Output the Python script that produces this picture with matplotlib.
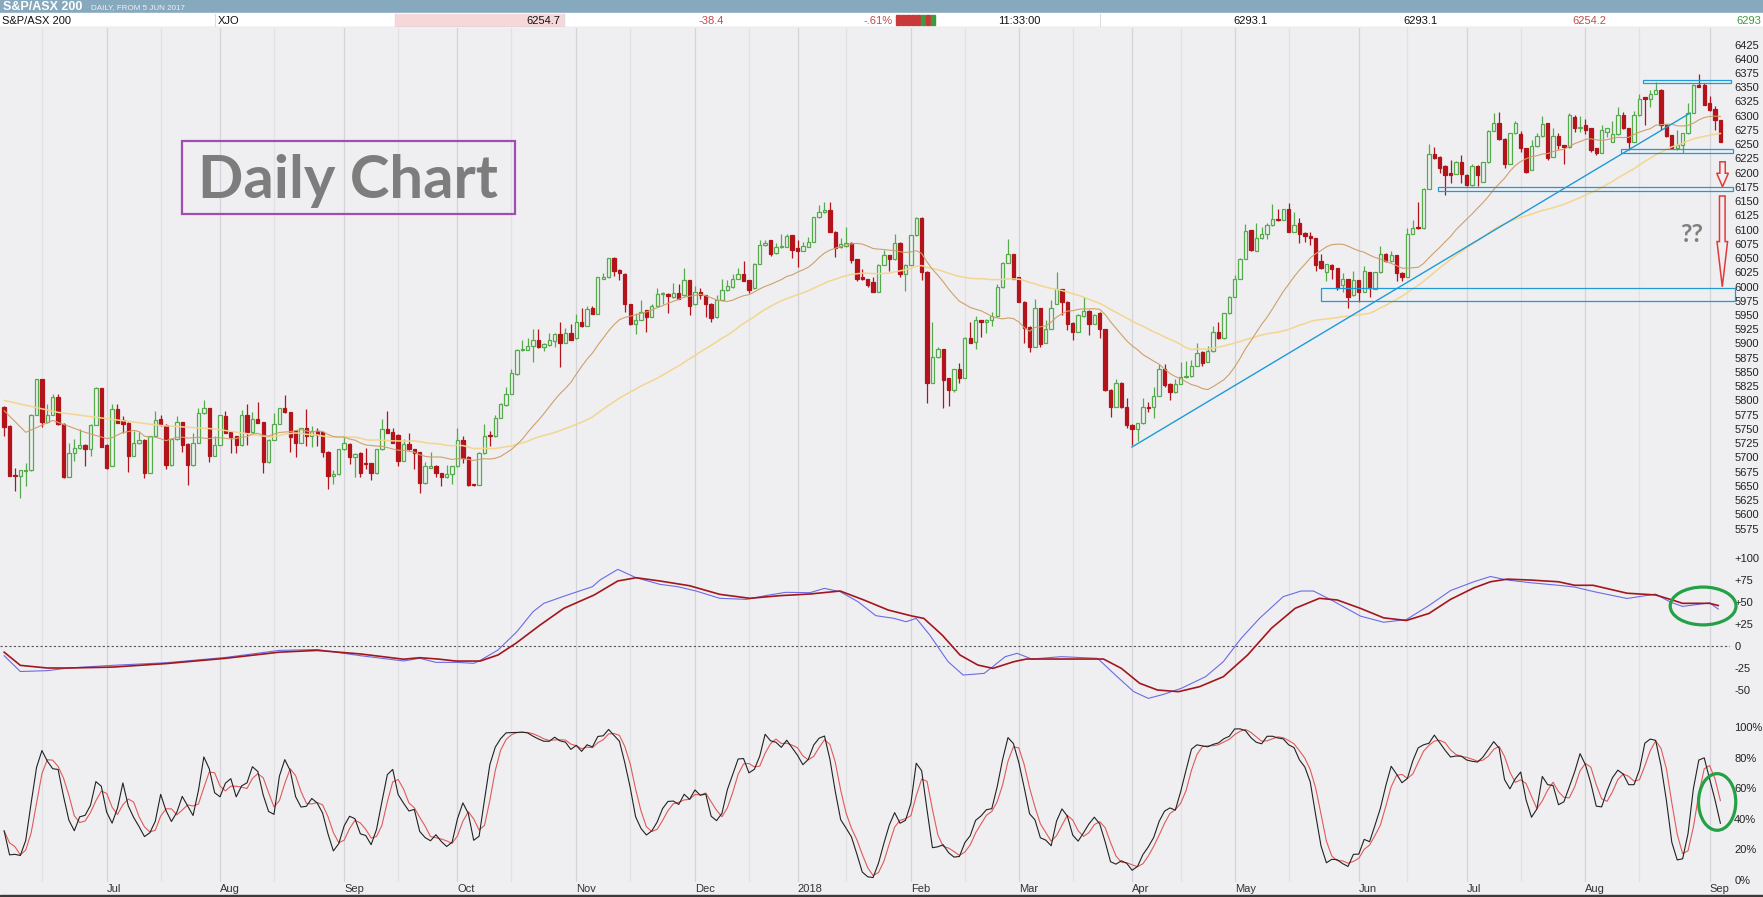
import numpy as np
import pandas as pd
import matplotlib
matplotlib.use("Agg")
import matplotlib.pyplot as plt
from matplotlib.patches import Rectangle, Ellipse, Polygon

plt.rcParams["font.family"] = ["Liberation Sans", "DejaVu Sans"]

# ================================
# DATA  (S&P/ASX 200 daily candles, 5 Jun 2017 .. 5 Sep 2018)
# ================================
opens = [
    5788, 5755, 5669, 5667, 5676, 5677, 5775, 5837, 5763, 5775,
    5806, 5759, 5666, 5708, 5716, 5722, 5714, 5757, 5821, 5722,
    5685, 5785, 5765, 5761, 5703, 5725, 5731, 5673, 5737, 5767,
    5756, 5686, 5732, 5762, 5724, 5686, 5726, 5778, 5786, 5703,
    5722, 5772, 5745, 5737, 5721, 5775, 5744, 5768, 5762, 5692,
    5731, 5759, 5786, 5779, 5747, 5726, 5751, 5737, 5747, 5744,
    5710, 5668, 5670, 5714, 5724, 5701, 5708, 5691, 5690, 5672,
    5714, 5749, 5745, 5740, 5694, 5724, 5714, 5709, 5655, 5682,
    5685, 5672, 5665, 5671, 5684, 5731, 5701, 5653, 5652, 5707,
    5739, 5737, 5770, 5792, 5812, 5846, 5888, 5889, 5895, 5906,
    5894, 5897, 5905, 5917, 5901, 5919, 5909, 5938, 5931, 5962,
    5952, 6014, 6016, 6050, 6029, 6022, 5969, 5934, 5942, 5958,
    5947, 5965, 5987, 5987, 5981, 5989, 5985, 6011, 5969, 5991,
    5985, 5970, 5946, 5977, 5994, 5999, 6014, 6022, 6011, 5997,
    6040, 6073, 6081, 6059, 6069, 6070, 6090, 6067, 6063, 6070,
    6079, 6122, 6131, 6135, 6096, 6069, 6071, 6077, 6048, 6016,
    6013, 6008, 5991, 6038, 6055, 6048, 6077, 6022, 6038, 6090,
    6121, 6026, 5831, 5876, 5890, 5839, 5818, 5855, 5840, 5909,
    5903, 5941, 5937, 5941, 5948, 5999, 6042, 6057, 6016, 5973,
    5929, 5894, 5962, 5901, 5926, 5970, 5995, 5973, 5936, 5921,
    5948, 5957, 5935, 5954, 5925, 5819, 5789, 5831, 5789, 5757,
    5749, 5760, 5789, 5788, 5808, 5856, 5829, 5814, 5829, 5841,
    5843, 5861, 5885, 5868, 5886, 5921, 5909, 5953, 5982, 6014,
    6049, 6099, 6063, 6085, 6092, 6108, 6118, 6117, 6137, 6096,
    6111, 6094, 6089, 6085, 6044, 6026, 6038, 6032, 6003, 6013,
    5985, 6011, 5991, 6025, 5996, 6025, 6058, 6044, 6055, 6024,
    6017, 6093, 6105, 6102, 6172, 6233, 6228, 6212, 6199, 6198,
    6218, 6196, 6178, 6212, 6184, 6218, 6274, 6288, 6259, 6216,
    6269, 6268, 6243, 6205, 6246, 6264, 6287, 6228, 6264, 6248,
    6245, 6298, 6278, 6283, 6278, 6243, 6235, 6272, 6254, 6268,
    6301, 6278, 6254, 6301, 6332, 6329, 6339, 6346, 6284, 6266,
    6243, 6248, 6269, 6305, 6354, 6354, 6322, 6311, 6293.1,
]
highs = [
    5790, 5756, 5682, 5678, 5691, 5776, 5838, 5838, 5794, 5812,
    5812, 5760, 5725, 5732, 5750, 5724, 5758, 5823, 5822, 5723,
    5793, 5793, 5772, 5762, 5747, 5745, 5732, 5738, 5781, 5775,
    5759, 5733, 5772, 5763, 5725, 5743, 5786, 5801, 5787, 5738,
    5775, 5781, 5746, 5738, 5784, 5794, 5780, 5798, 5763, 5732,
    5778, 5787, 5809, 5780, 5748, 5752, 5785, 5755, 5751, 5745,
    5711, 5677, 5715, 5735, 5725, 5707, 5709, 5716, 5691, 5715,
    5767, 5781, 5751, 5741, 5732, 5743, 5715, 5710, 5692, 5709,
    5686, 5673, 5686, 5685, 5751, 5738, 5702, 5654, 5709, 5759,
    5746, 5775, 5795, 5824, 5855, 5890, 5906, 5909, 5925, 5925,
    5900, 5919, 5918, 5937, 5927, 5934, 5952, 5962, 5966, 5966,
    6017, 6023, 6051, 6052, 6030, 6023, 5970, 5954, 5977, 5959,
    5969, 5997, 5991, 5988, 6006, 6004, 6032, 6012, 6001, 5998,
    5986, 5971, 5985, 6013, 6011, 6022, 6032, 6044, 6012, 6041,
    6082, 6081, 6082, 6077, 6093, 6093, 6091, 6082, 6079, 6087,
    6123, 6143, 6149, 6149, 6097, 6085, 6104, 6078, 6049, 6031,
    6014, 6017, 6039, 6065, 6056, 6093, 6078, 6039, 6091, 6122,
    6122, 6027, 5938, 5894, 5891, 5840, 5856, 5866, 5912, 5937,
    5948, 5942, 5943, 5956, 6004, 6043, 6083, 6058, 6017, 5974,
    5930, 5979, 5963, 5941, 5976, 6026, 5996, 5974, 5937, 5951,
    5982, 5958, 5951, 5955, 5926, 5820, 5837, 5832, 5804, 5758,
    5761, 5805, 5798, 5824, 5864, 5864, 5830, 5837, 5868, 5870,
    5871, 5901, 5886, 5895, 5930, 5938, 5954, 5983, 6020, 6050,
    6110, 6100, 6111, 6104, 6112, 6145, 6137, 6137, 6146, 6131,
    6120, 6095, 6095, 6086, 6058, 6040, 6040, 6033, 6023, 6014,
    6027, 6012, 6036, 6026, 6026, 6071, 6059, 6063, 6056, 6025,
    6102, 6116, 6149, 6173, 6250, 6245, 6229, 6213, 6223, 6221,
    6231, 6197, 6216, 6213, 6219, 6275, 6304, 6307, 6260, 6270,
    6291, 6274, 6244, 6257, 6270, 6299, 6288, 6278, 6269, 6249,
    6304, 6301, 6299, 6294, 6279, 6244, 6284, 6279, 6291, 6315,
    6307, 6279, 6309, 6339, 6333, 6346, 6360, 6347, 6285, 6267,
    6275, 6270, 6322, 6355, 6374, 6357, 6334, 6317, 6293.1,
]
lows = [
    5737, 5667, 5641, 5629, 5650, 5676, 5774, 5753, 5760, 5774,
    5757, 5664, 5665, 5694, 5714, 5685, 5703, 5756, 5718, 5680,
    5684, 5760, 5743, 5675, 5702, 5724, 5664, 5672, 5736, 5755,
    5679, 5685, 5731, 5710, 5652, 5685, 5725, 5777, 5692, 5702,
    5721, 5742, 5708, 5708, 5720, 5722, 5743, 5760, 5672, 5691,
    5730, 5758, 5778, 5710, 5700, 5725, 5720, 5718, 5720, 5700,
    5645, 5654, 5669, 5713, 5688, 5665, 5665, 5680, 5661, 5671,
    5713, 5742, 5725, 5685, 5693, 5713, 5679, 5638, 5654, 5681,
    5665, 5649, 5664, 5653, 5683, 5690, 5649, 5650, 5651, 5706,
    5720, 5736, 5769, 5791, 5811, 5845, 5887, 5888, 5868, 5892,
    5886, 5896, 5894, 5858, 5900, 5906, 5908, 5929, 5930, 5951,
    5951, 6013, 6015, 6019, 6011, 5956, 5933, 5917, 5941, 5921,
    5946, 5964, 5970, 5953, 5980, 5978, 5984, 5950, 5968, 5979,
    5946, 5938, 5945, 5976, 5993, 5998, 6013, 6009, 5989, 5996,
    6039, 6072, 6054, 6058, 6068, 6069, 6051, 6034, 6062, 6069,
    6078, 6121, 6130, 6095, 6052, 6068, 6070, 6042, 6010, 6012,
    6000, 5990, 5990, 6037, 6028, 6047, 6016, 5993, 6037, 6089,
    6011, 5795, 5830, 5875, 5786, 5790, 5815, 5830, 5839, 5900,
    5890, 5912, 5919, 5930, 5947, 5998, 6041, 6013, 5972, 5900,
    5885, 5893, 5894, 5900, 5925, 5969, 5950, 5924, 5906, 5920,
    5947, 5915, 5934, 5910, 5817, 5771, 5788, 5786, 5751, 5722,
    5729, 5759, 5780, 5769, 5807, 5824, 5800, 5813, 5828, 5840,
    5842, 5860, 5860, 5867, 5885, 5908, 5908, 5952, 5981, 6013,
    6048, 6063, 6062, 6084, 6084, 6107, 6115, 6116, 6095, 6095,
    6077, 6079, 6073, 6028, 6030, 6009, 6013, 5994, 5991, 5963,
    5984, 5972, 5990, 5981, 5995, 6024, 6043, 6043, 6009, 6009,
    6016, 6092, 6101, 6101, 6171, 6224, 6200, 6161, 6181, 6197,
    6181, 6177, 6177, 6177, 6183, 6217, 6273, 6258, 6208, 6215,
    6268, 6237, 6199, 6204, 6245, 6263, 6222, 6227, 6241, 6216,
    6244, 6272, 6272, 6268, 6237, 6231, 6234, 6263, 6253, 6267,
    6277, 6240, 6253, 6300, 6284, 6316, 6338, 6275, 6263, 6241,
    6240, 6234, 6268, 6304, 6350, 6318, 6309, 6275, 6254.2,
]
closes = [
    5754, 5668, 5667, 5677, 5678, 5775, 5837, 5762, 5775, 5806,
    5759, 5665, 5708, 5716, 5722, 5714, 5757, 5821, 5719, 5682,
    5785, 5761, 5759, 5703, 5725, 5731, 5672, 5737, 5766, 5756,
    5686, 5732, 5762, 5722, 5686, 5726, 5778, 5786, 5703, 5722,
    5774, 5743, 5735, 5721, 5775, 5744, 5768, 5761, 5692, 5731,
    5759, 5786, 5779, 5735, 5726, 5751, 5737, 5747, 5739, 5710,
    5668, 5670, 5714, 5725, 5701, 5706, 5672, 5688, 5672, 5714,
    5749, 5743, 5726, 5694, 5724, 5714, 5708, 5655, 5684, 5685,
    5672, 5665, 5671, 5684, 5731, 5699, 5651, 5652, 5708, 5738,
    5737, 5770, 5794, 5812, 5848, 5889, 5890, 5896, 5906, 5893,
    5899, 5906, 5917, 5901, 5918, 5907, 5938, 5930, 5960, 5952,
    6016, 6017, 6050, 6028, 6023, 5969, 5934, 5942, 5956, 5946,
    5965, 5987, 5988, 5984, 5988, 5979, 6011, 5966, 5991, 5985,
    5969, 5944, 5977, 5994, 6001, 6014, 6022, 6010, 5994, 6040,
    6073, 6076, 6058, 6069, 6071, 6089, 6065, 6063, 6071, 6079,
    6122, 6131, 6135, 6096, 6067, 6075, 6077, 6047, 6013, 6013,
    6003, 5991, 6038, 6055, 6048, 6077, 6022, 6038, 6090, 6121,
    6026, 5831, 5877, 5890, 5836, 5818, 5855, 5840, 5909, 5901,
    5941, 5938, 5942, 5948, 5999, 6042, 6057, 6014, 5973, 5928,
    5894, 5962, 5899, 5926, 5963, 5995, 5973, 5935, 5921, 5950,
    5957, 5935, 5950, 5925, 5818, 5789, 5831, 5789, 5757, 5749,
    5760, 5788, 5787, 5808, 5856, 5827, 5814, 5829, 5841, 5843,
    5861, 5883, 5865, 5886, 5921, 5909, 5953, 5982, 6014, 6049,
    6098, 6064, 6085, 6092, 6108, 6118, 6116, 6136, 6096, 6108,
    6093, 6088, 6086, 6038, 6032, 6039, 6030, 5998, 6013, 5981,
    6011, 5990, 6028, 5997, 6025, 6058, 6044, 6055, 6024, 6016,
    6093, 6102, 6102, 6172, 6233, 6225, 6209, 6196, 6196, 6218,
    6198, 6178, 6212, 6196, 6218, 6274, 6288, 6259, 6216, 6269,
    6288, 6243, 6202, 6246, 6264, 6285, 6225, 6264, 6248, 6245,
    6301, 6278, 6281, 6275, 6240, 6234, 6275, 6278, 6268, 6301,
    6278, 6254, 6301, 6330, 6329, 6339, 6346, 6284, 6264, 6243,
    6248, 6269, 6305, 6354, 6351, 6319, 6310, 6293, 6254.7,
]

ma20_lead_x = [0, 4, 9, 15]
ma20_lead = [5782, 5744, 5765, 5744]
ma50_lead_x = [0, 10, 19, 29, 39]
ma50_lead = [5800, 5779, 5768, 5756, 5750]

# MACD line (blue) and its signal line (red)
macd_x = [0, 3, 8, 12, 20, 30, 41, 51, 58, 66, 74, 77, 80, 84, 87, 88,
          91.5, 95, 98, 100, 104, 109, 110.4, 113.7, 117.1, 121.5, 124.8,
          128.2, 132.6, 137.6, 141, 144.8, 149.3, 152, 154.9, 158.2, 161.5,
          164.9, 167.1, 169, 171.5, 174.9, 177.7, 181.6, 185.5, 187.7, 190.4,
          195.9, 202.6, 205.9, 209.3, 212, 214.8, 218.1, 222.6, 225.9, 229.2,
          232.6, 237, 240.3, 242.6, 245.9, 251.3, 255.6, 259.8, 264, 268,
          272.3, 275.4, 278.5, 282.7, 288, 291, 294.4, 300.7, 306, 308.7,
          311, 316, 317.6]
macd_vals = [-11, -29, -28, -25, -22, -19, -13, -5, -4, -11, -17, -14, -18.6,
             -18.6, -19.7, -17.1, -4.6, 16.3, 39, 48.5, 57.2, 67.4, 75, 87.1,
             77.6, 70.1, 67.4, 62.5, 54.2, 53, 57.2, 61, 60.6, 65.5, 61.7, 50.4,
             34.5, 31.4, 27.6, 31.4, 12.5, -17.8, -33, -31.1, -12.1, -8.3, -14.8,
             -12.1, -14, -33, -51.9, -59.5, -55, -48.1, -34.9, -17.8, 8.7, 31.4,
             56.1, 62.5, 62.5, 52.3, 34, 27, 30, 46, 63, 73, 79, 75, 72, 69, 67,
             62, 54, 59, 50, 45, 49, 42]
signal_x = [0, 3, 8, 12, 20, 30, 41, 51, 58, 66, 74, 77, 80.4, 83.7, 88.2,
            91.5, 94.8, 99.3, 103.7, 109.3, 113.7, 117.1, 121.5, 127, 132.6,
            138.2, 143.7, 149.3, 154.9, 159.3, 163.8, 168.2, 170.4, 173.8,
            177.1, 180.4, 183.2, 187.1, 189.4, 194.8, 203.7, 207, 210.4, 213.7,
            217.6, 221.5, 225.9, 230.4, 234.8, 239.2, 243.7, 247, 251.3, 255.6,
            259.8, 264, 268, 272.3, 275.4, 278.5, 282.7, 288, 291, 294.4, 300.7,
            306, 308.7, 311, 316, 317.6]
signal_vals = [-7, -22, -25, -25, -24, -20, -14, -7, -5, -9, -15, -13.3, -14.8,
               -17.1, -17.1, -10.2, 3, 23.8, 42.8, 57.9, 73.9, 77.6, 73.9, 68.5,
               58.7, 54.2, 57.2, 59.1, 62.5, 52.3, 40.9, 34.1, 31.4, 12.5, -10.2,
               -21.6, -25.4, -17.8, -14.8, -14.8, -14.8, -25.4, -42.4, -50,
               -51.9, -46.2, -34.9, -10.2, 20.1, 42.8, 54.2, 52.3, 42.8, 32, 29,
               37, 53, 66, 73, 76, 75, 73, 69, 69, 60, 58, 53, 48.5, 48.5, 46]

# bar index of the first trading day of each month, and of mid month
month_labels = ["Jul", "Aug", "Sep", "Oct", "Nov", "Dec", "2018", "Feb",
                "Mar", "Apr", "May", "Jun", "Jul", "Aug", "Sep"]
month_starts = [19, 40, 63, 84, 106, 128, 147, 168, 188, 209, 228, 251, 271, 293, 316]
mid_months = [7, 29, 50, 73, 94, 116, 138, 156, 178, 198, 218, 238, 260, 281, 303]

price_ticks = list(range(6425, 5574, -25))
price_grid = list(range(5600, 6401, 100))
macd_ticks = [100, 75, 50, 25, 0, -25, -50]
macd_labels = ["+100", "+75", "+50", "+25", "0", "-25", "-50"]
stoch_ticks = [100, 80, 60, 40, 20, 0]
stoch_labels = ["100%", "80%", "60%", "40%", "20%", "0%"]

# quote strip
quote_name = "S&P/ASX 200"
quote_code = "XJO"
quote_last = "6254.7"
quote_chg = "-38.4"
quote_pct = "-.61%"
quote_time = "11:33:00"
quote_open = "6293.1"
quote_high = "6293.1"
quote_low = "6254.2"
quote_prev = "6293"

# hand-drawn analysis marks (bar index, price)
trend_x = [208.97, 312.4]
trend_y = [5718.2, 6304.7]
zones = [  # x0, x1, low, high
    (303.7, 319.96, 6356.6, 6362.4),
    (299.6, 320.3, 6234.5, 6241.5),
    (265.7, 320.3, 6167.7, 6174.8),
    (244.0, 320.7, 5974.6, 5997.4),
]
arrows = [  # x, top, neck, tip, shaft half width, head half width
    (318.4, 6219.0, 6199.0, 6175.3, 0.50, 1.08),
    (318.35, 6159.0, 6079.0, 5999.7, 0.52, 0.98),
]

# ================================
# STYLE
# ================================
W, H = 1763, 897
PLOT_W = 1730
BG = "#efeff2"
GRID_MAJ = "#d3d3d9"
GRID_MIN = "#e1e1e6"
UP = "#55ab4c"
DOWN = "#b3141b"
BLUE = "#1f9ad6"
ARROW_RED = "#e23a3a"
GREEN_RING = "#24a046"

# ================================
# MOVING AVERAGES / STOCHASTIC from the candles
# ================================
o = np.array(opens, float)
h = np.array(highs, float)
l = np.array(lows, float)
c = np.array(closes, float)
idx = np.arange(len(c))

s = pd.Series(c)
ma20 = s.rolling(20).mean()
ma50 = s.rolling(50).mean()
ma20_x = ma20_lead_x + list(idx[19:])
ma20_y = ma20_lead + list(ma20.values[19:])
ma50_x = ma50_lead_x + list(idx[49:])
ma50_y = ma50_lead + list(ma50.values[49:])

hh = pd.Series(h).rolling(14, min_periods=1).max()
ll = pd.Series(l).rolling(14, min_periods=1).min()
fast_k = 100 * (s - ll) / (hh - ll)
slow_k = fast_k.rolling(3, min_periods=1).mean()
slow_d = slow_k.rolling(3, min_periods=1).mean()

# ================================
# FIGURE
# ================================
fig = plt.figure(figsize=(W / 100, H / 100), dpi=100)
fig.patch.set_facecolor(BG)


def panel(top, bottom, **kw):
    return fig.add_axes([0, (H - bottom) / H, PLOT_W / W, (bottom - top) / H], **kw)


ax_p = panel(27.5, 553)
ax_m = panel(553, 712, sharex=ax_p)
ax_s = panel(712, 882, sharex=ax_p)

for ax in (ax_p, ax_m, ax_s):
    ax.set_facecolor(BG)
    for sp in ax.spines.values():
        sp.set_visible(False)
    ax.set_xticks(month_starts)
    ax.set_xticks(mid_months, minor=True)
    ax.xaxis.grid(True, which="major", color=GRID_MAJ, lw=0.9)
    ax.xaxis.grid(True, which="minor", color=GRID_MIN, lw=0.9)
    ax.yaxis.grid(True, which="minor", color=GRID_MIN, lw=0.9)
    ax.yaxis.grid(False, which="major")
    ax.set_axisbelow(True)
    ax.yaxis.tick_right()
    ax.tick_params(which="both", length=0)
    ax.tick_params(axis="y", pad=3, labelsize=8, labelcolor="#222222")
    ax.tick_params(axis="x", labelbottom=False)

ax_p.set_xlim(-4.15 / 5.397, (PLOT_W - 4.15) / 5.397)

# ---- price panel
ax_p.set_ylim(5532.1, 6454.9)
ax_p.set_yticks(price_ticks)
ax_p.set_yticklabels([str(v) for v in price_ticks])
ax_p.set_yticks(price_grid, minor=True)

up = c >= o
edge = [UP if u else DOWN for u in up]
face = [BG if u else DOWN for u in up]
ax_p.vlines(idx, l, h, colors=edge, lw=0.9, zorder=2)
ax_p.bar(idx, np.maximum(np.abs(c - o), 0.8), bottom=np.minimum(o, c), width=0.62,
         color=face, edgecolor=edge, linewidth=0.9, zorder=3)

ax_p.plot(ma50_x, ma50_y, color="#f3d58f", lw=1.1, zorder=4)
ax_p.plot(ma20_x, ma20_y, color="#cfa06a", lw=0.8, zorder=4)

ax_p.plot(trend_x, trend_y, color=BLUE, lw=1.0, zorder=5)
for x0, x1, lo, hi in zones:
    ax_p.add_patch(Rectangle((x0, lo), x1 - x0, hi - lo, fill=False, ec=BLUE,
                             lw=0.9, clip_on=False, zorder=5))
for xc, top, neck, tip, sw, hw in arrows:
    pts = [(xc - sw, top), (xc + sw, top), (xc + sw, neck), (xc + hw, neck),
           (xc, tip), (xc - hw, neck), (xc - sw, neck)]
    ax_p.add_patch(Polygon(pts, closed=True, fill=False, ec=ARROW_RED, lw=1.1,
                           clip_on=False, zorder=5))

ax_p.text(312.6, 6092, "??", ha="center", va="center", fontsize=18,
          fontweight="bold", color="#808080", family="Lato", zorder=6)

ax_p.add_patch(Rectangle((0.1052, 0.6451), 0.1925, 0.1389, transform=ax_p.transAxes,
                         fill=False, ec="#a04db2", lw=1.6, zorder=6))
ax_p.text(0.2014, 0.6755, "Daily Chart", transform=ax_p.transAxes, ha="center",
          va="baseline", fontsize=43, fontweight="bold", family="Lato",
          color="#7d7d7d", zorder=6)

# ---- MACD panel
ax_m.set_ylim(-75.0, 105.7)
ax_m.set_yticks(macd_ticks)
ax_m.set_yticklabels(macd_labels)
ax_m.set_yticks([100], minor=True)
ax_m.axhline(0, color="#555555", lw=0.8, ls=(0, (2, 2)), zorder=2)
ax_m.plot(macd_x, macd_vals, color="#6b6be6", lw=0.8, zorder=3)
ax_m.plot(signal_x, signal_vals, color="#a3161c", lw=1.2, zorder=3)
ax_m.add_patch(Ellipse((314.8, 45.5), 12.2, 43, fill=False, ec=GREEN_RING, lw=2.3,
                       clip_on=False, zorder=6))

# ---- stochastic panel
ax_s.set_ylim(-1.3, 109.8)
ax_s.set_yticks(stoch_ticks)
ax_s.set_yticklabels(stoch_labels)
ax_s.set_yticks([0, 100], minor=True)
ax_s.plot(idx, slow_d, color="#e05a5a", lw=0.8, zorder=3)
ax_s.plot(idx, slow_k, color="#222222", lw=0.8, zorder=3)
ax_s.add_patch(Ellipse((317.4, 51), 6.9, 37, fill=False, ec=GREEN_RING, lw=2.3,
                       clip_on=False, zorder=6))
ax_s.set_xticks(month_starts, labels=month_labels)
ax_s.tick_params(axis="x", labelbottom=True, pad=1.5, labelsize=8, labelcolor="#333333")
for lbl in ax_s.get_xticklabels():
    lbl.set_ha("left")

# ---- header strip
ax_h = fig.add_axes([0, (H - 27.5) / H, 1, 27.5 / H])
ax_h.set_xlim(0, W)
ax_h.set_ylim(27.5, 0)
ax_h.axis("off")
ax_h.add_patch(Rectangle((0, 0), W, 13.5, color="#87a9be"))
ax_h.add_patch(Rectangle((0, 13.5), W, 14, color="white"))
ax_h.add_patch(Rectangle((395, 14.5), 169, 12, color="#f6d8db"))
ax_h.plot([0, W], [27, 27], color="#c6c6c6", lw=1)
for sx in (215, 395, 564, 1100):
    ax_h.plot([sx, sx], [14, 27], color="#dcdcdc", lw=0.8)

ax_h.text(3, 7, "S&P/ASX 200", color="white", fontweight="bold", fontsize=9, va="center")
ax_h.text(91, 7.5, "DAILY, FROM 5 JUN 2017", color="#eef2f5", fontsize=5.8, va="center")

ry = 20.8
ax_h.text(2, ry, quote_name, fontsize=8, va="center", color="#111111")
ax_h.text(218, ry, quote_code, fontsize=8, va="center", color="#111111")
ax_h.text(560, ry, quote_last, fontsize=8, va="center", ha="right", color="#111111")
ax_h.text(724, ry, quote_chg, fontsize=8, va="center", ha="right", color="#c24a4a")
ax_h.text(893, ry, quote_pct, fontsize=8, va="center", ha="right", color="#c24a4a")
tick_cols = ["#c83a3a"] * 5 + ["#3d9a3d", "#c83a3a", "#3d9a3d"]
for k, col in enumerate(tick_cols):
    ax_h.add_patch(Rectangle((896 + k * 5, 15.5), 3.6, 10, color=col))
ax_h.text(998, ry, quote_time, fontsize=8, va="center", color="#111111")
ax_h.text(1268, ry, quote_open, fontsize=8, va="center", ha="right", color="#111111")
ax_h.text(1437, ry, quote_high, fontsize=8, va="center", ha="right", color="#111111")
ax_h.text(1606, ry, quote_low, fontsize=8, va="center", ha="right", color="#c24a4a")
ax_h.text(1761, ry, quote_prev, fontsize=8, va="center", ha="right", color="#3d9a3d")

# bottom frame line
fig.add_artist(Rectangle((0, 0), 1, 2.5 / H, transform=fig.transFigure,
                         color="#3a3a3a", zorder=10))

fig.savefig("out.png", dpi=100, facecolor=BG)
